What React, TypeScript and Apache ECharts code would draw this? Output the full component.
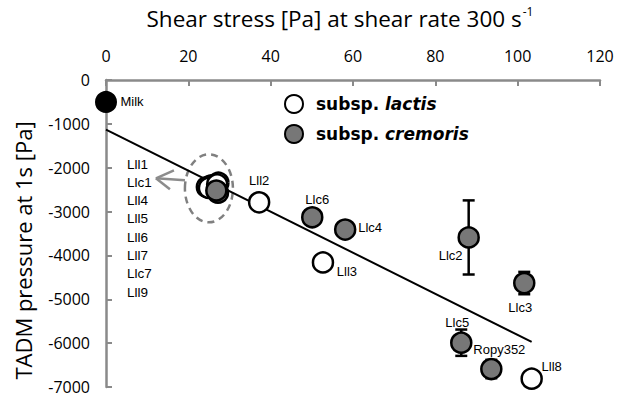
import React, { useEffect, useRef } from "react";
import * as echarts from "echarts";

// ---- data ----
const xTicks = [0, 20, 40, 60, 80, 100, 120];
const yTicks = [0, -1000, -2000, -3000, -4000, -5000, -6000, -7000];

const milkNames = ["Milk"];
const milkX = [0];
const milkY = [-500];

const lactisNames = ["Lll1", "Lll4", "Lll5", "Lll6", "Lll7", "Lll9", "Lll2", "Lll3", "Lll8"];
const lactisX = [24.5, 25.6, 27.3, 26.5, 25.0, 27.0, 37.2, 52.7, 103.4];
const lactisY = [-2440, -2400, -2340, -2430, -2460, -2380, -2790, -4160, -6810];

const cremorisNames = ["Llc1", "Llc7", "Llc6", "Llc4", "Llc2", "Llc3", "Llc5", "Ropy352"];
const cremorisX = [27.2, 26.8, 50.1, 58.1, 88.1, 101.6, 86.3, 93.6];
const cremorisY = [-2570, -2520, -3130, -3410, -3590, -4630, -5990, -6590];
const cremorisErr = [0, 0, 0, 0, 845, 255, 300, 210];

const trendX = [0, 103.4];
const trendY = [-1130, -5970];

const clusterList = ["Lll1", "Llc1", "Lll4", "Lll5", "Lll6", "Lll7", "Llc7", "Lll9"];
const clusterCenter = [25.0, -2470];

// label placement (style, not data)
const labelOffsets: Record<string, [number, number]> = {
  Milk: [26, 0],
  Lll2: [0, -22],
  Lll3: [24, 9],
  Lll8: [20, -12],
  Llc6: [5, -18],
  Llc4: [25, -2],
  Llc2: [-18, 18],
  Llc3: [-4, 24],
  Llc5: [-4, -20],
  Ropy352: [8, -20],
};

const GRAY = "#777777";
const AXIS = "#8a8a8a";
const TICK_FONT = "'Open Sans', sans-serif";
const LABEL_FONT = "'Liberation Sans', Arial, sans-serif";

function pts(names: string[], xs: number[], ys: number[]) {
  return names.map((n, i) => {
    const off = labelOffsets[n];
    return {
      name: n,
      value: [xs[i], ys[i]],
      label: off
        ? {
            show: true,
            position: "inside",
            offset: off,
            formatter: n,
            color: "#000",
            fontSize: 13,
            fontFamily: LABEL_FONT,
          }
        : { show: false },
    };
  });
}

export default function App() {
  const ref = useRef<HTMLDivElement>(null);
  useEffect(() => {
    if (!ref.current) return;
    const chart = echarts.init(ref.current, undefined, { renderer: "svg" });
    const option: any = {
      animation: false,
      grid: { left: 106, top: 79, right: 20, bottom: 10 },
      legend: {
        orient: "vertical",
        left: 279,
        top: 89,
        itemWidth: 18,
        itemHeight: 18,
        itemGap: 10,
        data: ["subsp. lactis", "subsp. cremoris"],
        formatter: (name: string) =>
          name === "subsp. lactis" ? "{a|subsp. }{b|lactis}" : "{a|subsp. }{b|cremoris}",
        textStyle: {
          padding: [0, 0, 0, 8],
          rich: {
            a: { fontFamily: "'DejaVu Sans', sans-serif", fontWeight: "bold", fontSize: 17, color: "#000" },
            b: {
              fontFamily: "'DejaVu Sans', sans-serif",
              fontWeight: "bold",
              fontStyle: "italic",
              fontSize: 17,
              color: "#000",
            },
          },
        },
      },
      xAxis: {
        type: "value",
        position: "top",
        min: xTicks[0],
        max: xTicks[xTicks.length - 1],
        interval: 20,
        name: "{a|Shear stress [Pa] at shear rate 300 s}{s|-1}",
        nameLocation: "middle",
        nameGap: 50,
        nameTextStyle: {
          padding: [0, 26, 0, 0],
          rich: {
            a: { fontFamily: TICK_FONT, fontSize: 22.5, color: "#000", verticalAlign: "bottom", lineHeight: 28 },
            s: {
              fontFamily: TICK_FONT,
              fontSize: 12,
              color: "#000",
              verticalAlign: "bottom",
              padding: [0, 0, 13, 1],
            },
          },
        },
        axisLine: { show: true, onZero: false, lineStyle: { color: AXIS, width: 2.5 } },
        axisTick: { show: true, inside: true, length: 6, lineStyle: { color: AXIS, width: 2 } },
        axisLabel: { fontFamily: TICK_FONT, fontSize: 16, color: "#000", margin: 16 },
        splitLine: { show: false },
      },
      yAxis: {
        type: "value",
        min: yTicks[yTicks.length - 1],
        max: yTicks[0],
        interval: 1000,
        name: "TADM pressure at 1s [Pa]",
        nameLocation: "middle",
        nameGap: 72,
        nameRotate: 90,
        nameTextStyle: { fontFamily: TICK_FONT, fontSize: 22, color: "#000", padding: [0, 34, 0, 0] },
        axisLine: { show: true, onZero: false, lineStyle: { color: AXIS, width: 2.5 } },
        axisTick: { show: true, inside: true, length: 6, lineStyle: { color: AXIS, width: 2 } },
        axisLabel: {
          fontFamily: TICK_FONT,
          fontSize: 16,
          color: "#000",
          margin: 16,
          formatter: (v: number) => String(v),
        },
        splitLine: { show: false },
      },
      series: [
        {
          type: "line",
          name: "trend",
          data: trendX.map((x, i) => [x, trendY[i]]),
          showSymbol: false,
          symbol: "none",
          lineStyle: { color: "#000", width: 2 },
          z: 2,
          silent: true,
        },
        {
          type: "custom",
          name: "err",
          data: cremorisX.map((x, i) => [x, cremorisY[i], cremorisErr[i]]),
          z: 3,
          renderItem: (params: any, api: any) => {
            const x = api.value(0);
            const y = api.value(1);
            const e = api.value(2);
            if (!e) return null;
            const t = api.coord([x, y + e]);
            const b = api.coord([x, y - e]);
            const w = 6;
            const st = { stroke: "#000", lineWidth: 2.5 };
            return {
              type: "group",
              children: [
                { type: "line", shape: { x1: t[0], y1: t[1], x2: b[0], y2: b[1] }, style: st },
                { type: "line", shape: { x1: t[0] - w, y1: t[1], x2: t[0] + w, y2: t[1] }, style: st },
                { type: "line", shape: { x1: b[0] - w, y1: b[1], x2: b[0] + w, y2: b[1] }, style: st },
              ],
            };
          },
        },
        {
          type: "scatter",
          name: "Milk",
          data: pts(milkNames, milkX, milkY),
          symbolSize: 20,
          itemStyle: { color: "#000", borderColor: "#000", borderWidth: 2, opacity: 1 },
          z: 5,
        },
        {
          type: "scatter",
          name: "subsp. lactis",
          data: pts(lactisNames, lactisX, lactisY),
          symbolSize: 20,
          itemStyle: { color: "#fff", borderColor: "#000", borderWidth: 2.5, opacity: 1 },
          z: 5,
        },
        {
          type: "scatter",
          name: "subsp. cremoris",
          data: pts(cremorisNames, cremorisX, cremorisY),
          symbolSize: 20,
          itemStyle: { color: GRAY, borderColor: "#000", borderWidth: 2.5, opacity: 1 },
          z: 6,
        },
      ],
    };
    chart.setOption(option);

    const c = chart.convertToPixel({ gridIndex: 0 }, clusterCenter) as number[];
    const cx = c[0];
    const cy = c[1];
    const tipX = cx - 53;
    const tipY = cy - 10;
    const dash = { stroke: "#808080", lineWidth: 2.5, lineDash: [7, 5], fill: "none" };
    const arr = { stroke: "#8c8c8c", lineWidth: 2.5, fill: "none" };
    const listTexts = clusterList.map((n, i) => ({
      type: "text",
      left: 127,
      top: 157 + i * 18.3,
      style: { text: n, fontSize: 13.5, fontFamily: LABEL_FONT, fill: "#000" },
    }));
    chart.setOption({
      graphic: [
        { type: "ellipse", shape: { cx, cy, rx: 24, ry: 34 }, style: dash, z: 1 },
        { type: "line", shape: { x1: cx - 24, y1: cy - 8, x2: tipX, y2: tipY }, style: arr },
        { type: "line", shape: { x1: tipX, y1: tipY, x2: tipX + 18, y2: tipY - 8 }, style: arr },
        { type: "line", shape: { x1: tipX, y1: tipY, x2: tipX + 14, y2: tipY + 11 }, style: arr },
        ...listTexts,
      ],
    });
    return () => chart.dispose();
  }, []);
  return (
    <div
      ref={ref}
      style={{ position: "fixed", left: 0, top: 0, width: 620, height: 397, background: "#fff" }}
    />
  );
}
